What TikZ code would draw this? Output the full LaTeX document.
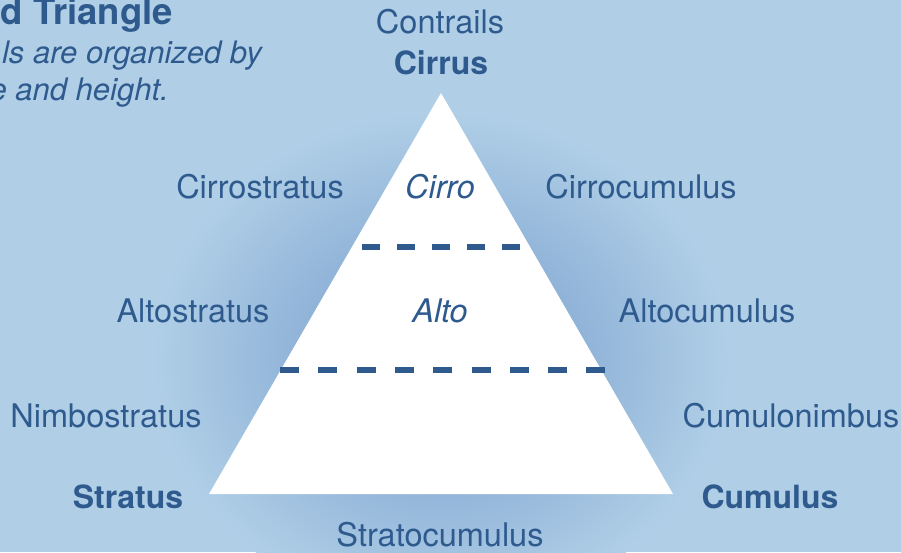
\documentclass[tikz,border=0pt]{standalone}
\usepackage{fontspec}
\setmainfont{TeX Gyre Heros}
\definecolor{bg}{HTML}{B0CFE7}
\definecolor{ink}{HTML}{2E5A8E}
\definecolor{glowc}{HTML}{86AAD3}
\pgfdeclareradialshading{glowsh}{\pgfpoint{0bp}{0bp}}{color(0bp)=(glowc); color(8bp)=(glowc); color(25bp)=(bg); color(50bp)=(bg)}
\begin{document}
\begin{tikzpicture}[x=1pt,y=-1pt,
  lbl/.style={font=\fontsize{32.5}{38}\selectfont, text=ink, inner sep=0pt, anchor=base},
  bold/.style={lbl, font=\fontsize{32}{38}\selectfont\bfseries},
  ital/.style={lbl, font=\fontsize{32.5}{38}\selectfont\itshape},
  subt/.style={lbl, anchor=base east, font=\fontsize{31}{36}\selectfont\itshape},
  dashline/.style={draw=ink, line width=6pt}]
\fill[bg] (0,0) rectangle (901,552);
\useasboundingbox (0,0) rectangle (901,552);
\begin{scope}
\clip (0,0) rectangle (901,552);
\shade[shading=glowsh] (441,360) ellipse [x radius=290, y radius=250];
\end{scope}
% triangle
\coordinate (apex) at (441,93);
\coordinate (bl) at (209,494);
\coordinate (br) at (673,494);
\fill[white] (apex) -- (bl) -- (br) -- cycle;
% dashed levels
\coordinate (d1a) at (362,247);
\coordinate (d1b) at (520,247);
\coordinate (d2a) at (280,370);
\coordinate (d2b) at (606,370);
\draw[dashline, dash pattern=on 17.5pt off 17.5pt] (d1a) -- (d1b);
\draw[dashline, dash pattern=on 19pt off 19.3pt] (d2a) -- (d2b);
% title (clipped at the left edge)
\begin{scope}
\clip (0,0) rectangle (901,552);
\node[lbl, anchor=base east, font=\fontsize{36.5}{42}\selectfont\bfseries] (title) at (173,24) {d Triangle};
\node[subt] (sub1) at (262,63) {ls are organized by};
\node[subt] (sub2) at (169,100) {e and height.};
\end{scope}
% labels
\node[lbl] (contrails) at (440,33) {Contrails};
\node[bold] (cirrus) at (441,74) {Cirrus};
\node[lbl] (cirrostratus) at (260,198) {Cirrostratus};
\node[ital] (cirro) at (440,198) {Cirro};
\node[lbl] (cirrocumulus) at (641,198) {Cirrocumulus};
\node[lbl] (altostratus) at (193,322) {Altostratus};
\node[ital] (alto) at (440,322) {Alto};
\node[lbl] (altocumulus) at (707,322) {Altocumulus};
\node[lbl] (nimbostratus) at (106,427) {Nimbostratus};
\node[lbl] (cumulonimbus) at (791,427) {Cumulonimbus};
\node[bold] (stratus) at (128,508) {Stratus};
\node[bold] (cumulus) at (770,508) {Cumulus};
\node[lbl] (stratocumulus) at (440,546) {Stratocumulus};
\end{tikzpicture}
\end{document}
